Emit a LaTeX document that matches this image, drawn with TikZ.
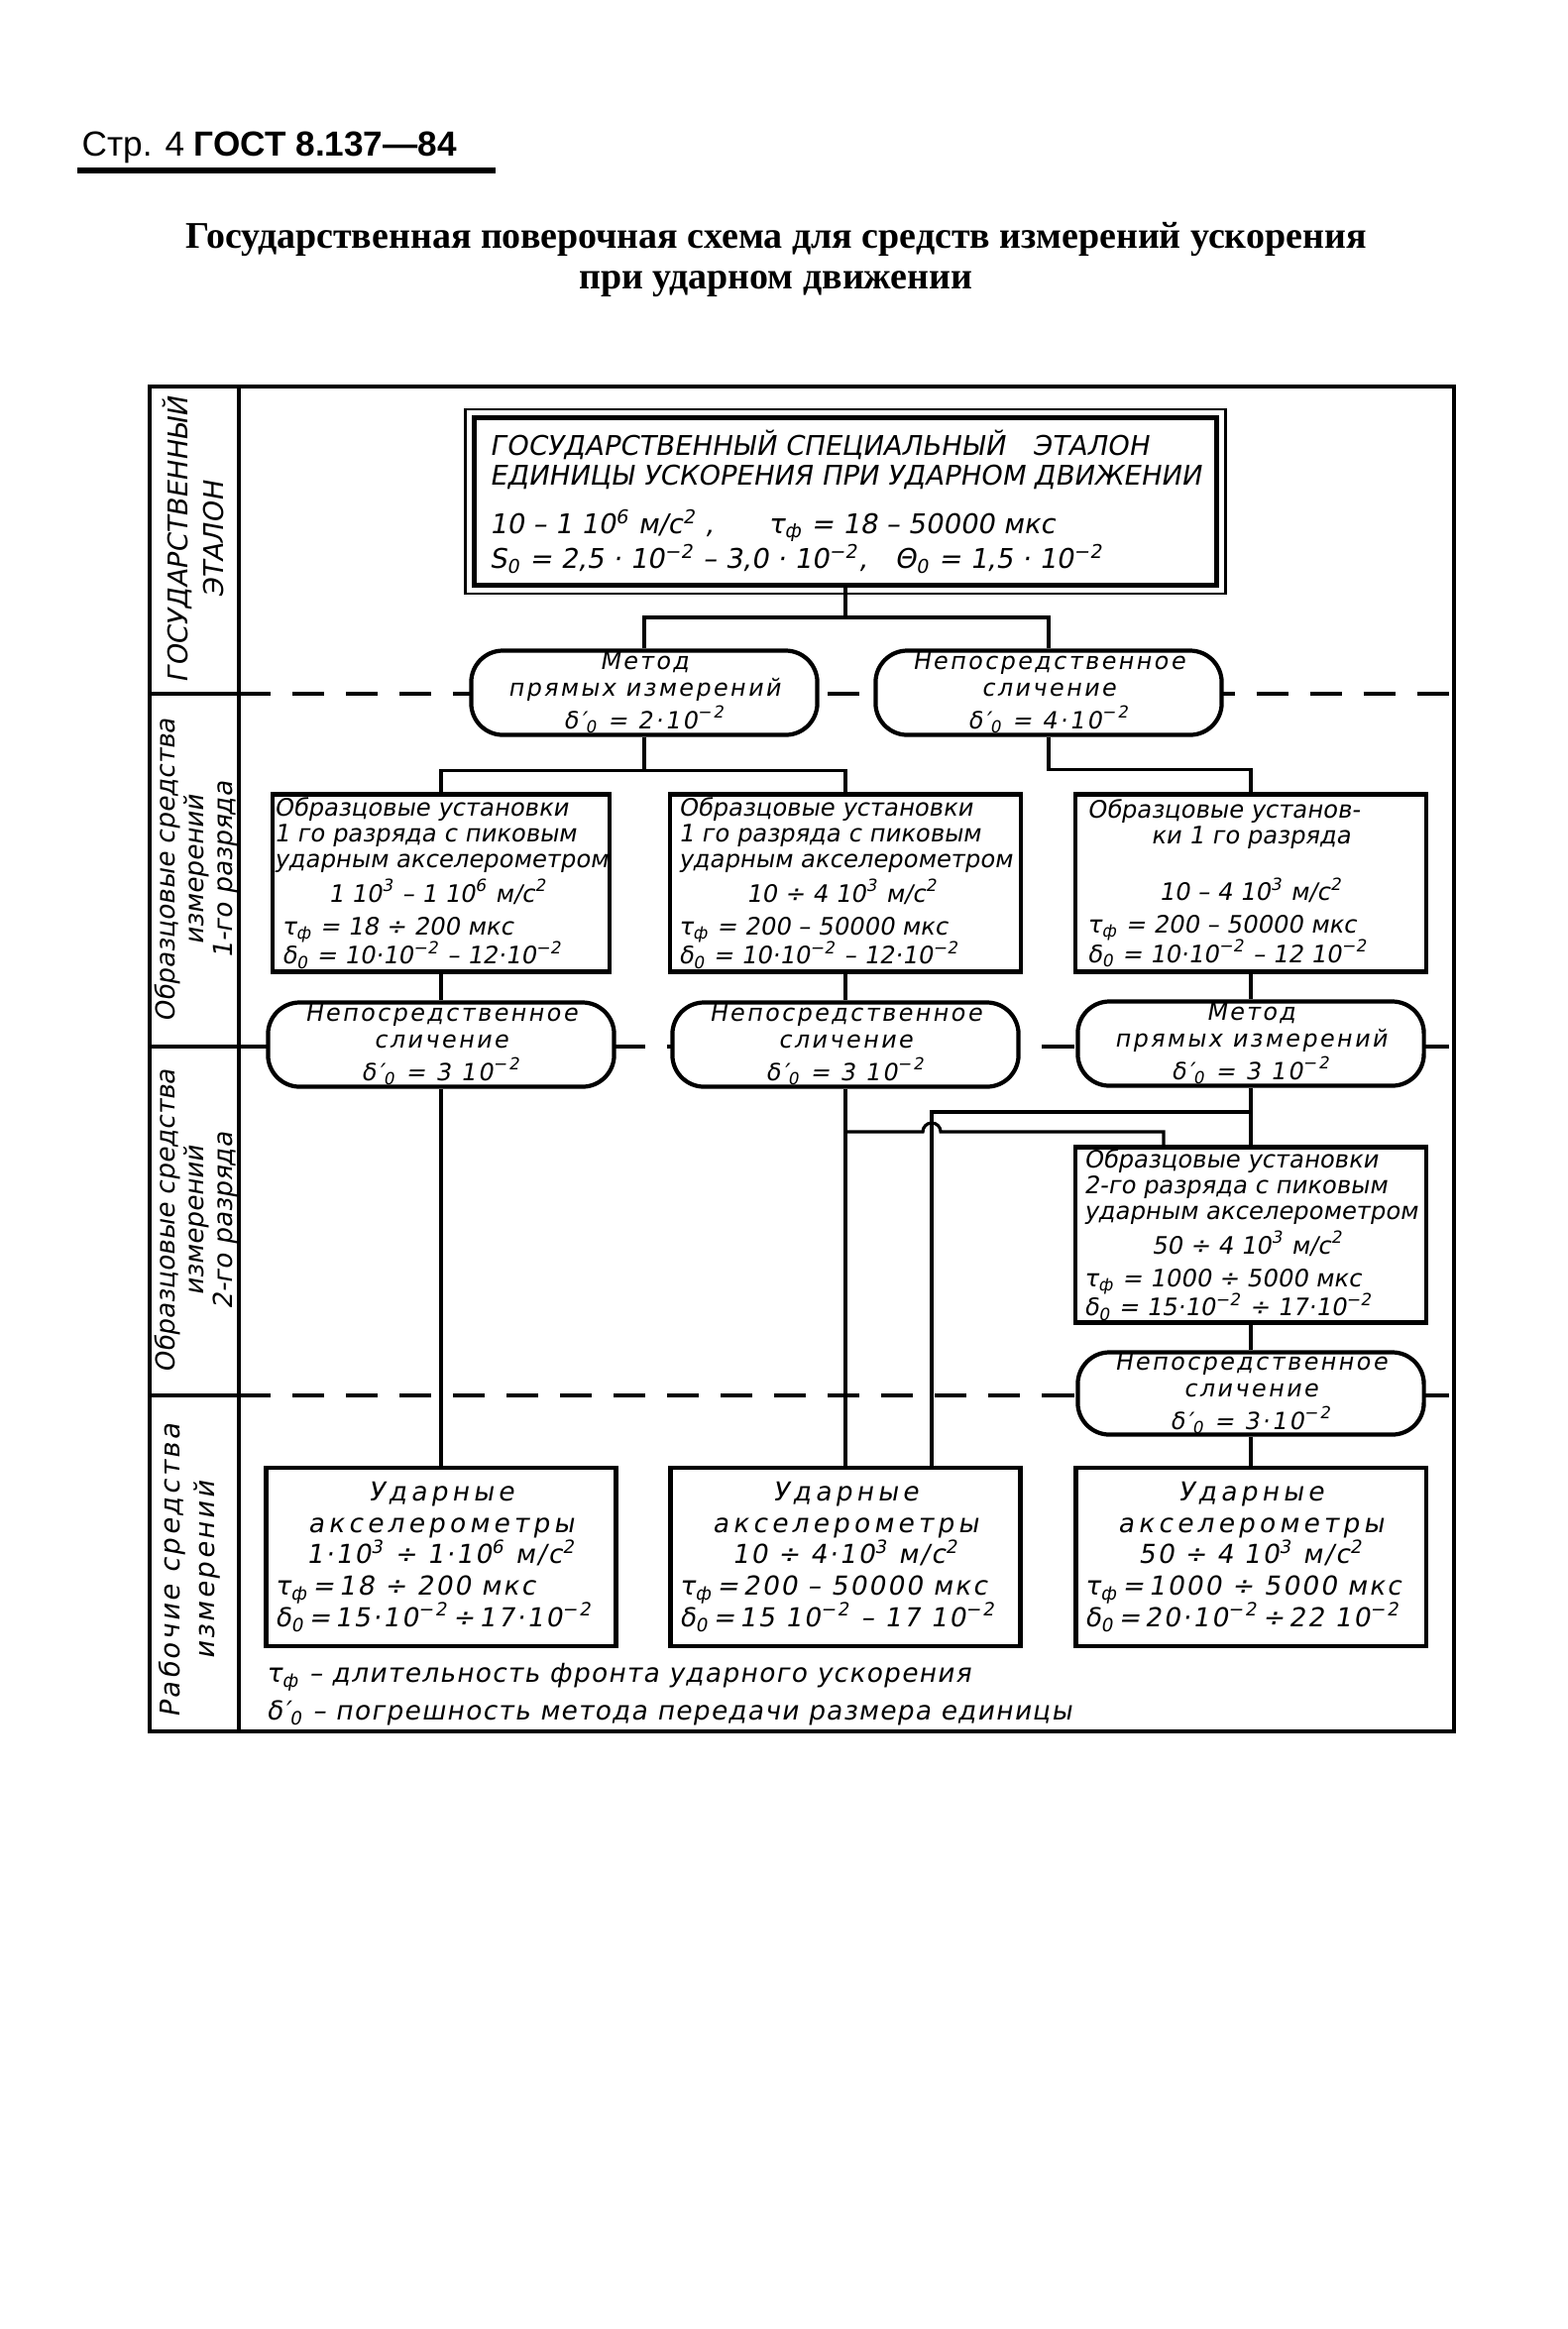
\documentclass[tikz,border=0pt]{standalone}
\usepackage{fontspec}
\setmainfont{Liberation Serif}
\newfontfamily\headfont{Liberation Sans}
\newfontfamily\gostfont[FakeSlant=0.18]{DejaVu Sans}

\newcommand{\gostsize}[2]{\gostfont\fontsize{#1}{#2}\selectfont\lineskiplimit-20pt\relax}
\newcommand{\tauf}{τ\textsubscript{ф}}
\newcommand{\delo}{δ\textsubscript{0}}
\newcommand{\delp}{δ′\textsubscript{0}}
\newcommand{\pw}[1]{\textsuperscript{#1}}
\newcommand{\centred}[2][3.3cm]{\makebox[#1]{#2}}
\newcommand{\spaced}[1]{{\addfontfeature{LetterSpace=16}#1}}

\begin{document}
\begin{tikzpicture}[x=0.01cm, y=-0.01cm,
  link/.style={line width=0.9pt},
  rowline/.style={line width=0.9pt, dash pattern=on 0.32cm off 0.22cm},
  refbox/.style={draw, line width=1.2pt, fill=white, inner sep=0pt, align=left,
    minimum width=3.54cm, minimum height=1.79cm, font={\gostsize{6.9}{7.4}}},
  workbox/.style={refbox, minimum width=3.53cm, minimum height=1.8cm,
    font={\gostsize{7.5}{9}\addfontfeature{LetterSpace=8}}},
  method/.style={draw, line width=1.2pt, fill=white, rounded corners=0.32cm,
    minimum width=3.49cm, minimum height=0.85cm, inner sep=0pt, align=center,
    font={\gostsize{6.8}{7.5}\addfontfeature{LetterSpace=10}}},
  sidelabel/.style={rotate=90, align=center, inner sep=0pt}
]
\useasboundingbox (0,0) rectangle (1582,2350);

% heading
\node[anchor=base west, inner sep=0pt, font=\headfont\fontsize{10}{12}\selectfont]
  (page) at (82,157) {Стр. 4 \textbf{ГОСТ 8.137—84}};
\draw[line width=1.5pt] (78,172) -- (500,172);
\node[align=center, font=\bfseries\fontsize{10.8}{11.6}\selectfont] (title) at (783,262)
  {Государственная поверочная схема для средств измерений ускорения\\при ударном движении};

% frame and level lines
\draw[line width=1.2pt] (151,390) rectangle (1467,1747);
\draw[line width=1.2pt] (241,390) -- (241,1747);
\foreach \y in {700,1056,1408}{
  \draw[link] (151,\y) -- (241,\y);
  \draw[rowline] (241,\y) -- (1467,\y);
}

% level names
\node[sidelabel, font={\gostsize{7.8}{10.2}}] (lvl0) at (195,545)
  {ГОСУДАРСТВЕННЫЙ\\ЭТАЛОН};
\node[sidelabel, font={\gostsize{7.5}{8.3}}] (lvl1) at (198,878)
  {Образцовые средства\\измерений\\1-го разряда};
\node[sidelabel, font={\gostsize{7.5}{8.3}}] (lvl2) at (198,1232)
  {Образцовые средства\\измерений\\2-го разряда};
\node[sidelabel, font={\gostsize{7.8}{10}\addfontfeature{LetterSpace=10}}] (lvl3) at (191,1585)
  {Рабочие средства\\измерений};

% state standard
\node[refbox, line width=1.4pt, minimum width=7.48cm, minimum height=1.69cm,
      font={\gostsize{7.8}{8.5}}] (etalon) at (853,506) {%
  ГОСУДАРСТВЕННЫЙ СПЕЦИАЛЬНЫЙ\quad ЭТАЛОН\\
  ЕДИНИЦЫ УСКОРЕНИЯ ПРИ УДАРНОМ ДВИЖЕНИИ\\[5.5pt]
  10 – 1 10\pw{6} м/с\pw{2}\ ,\qquad \tauf{} = 18 – 50000 мкс\\[1.5pt]
  S\textsubscript{0} = 2,5 · 10\pw{−2} – 3,0 · 10\pw{−2},\quad Θ\textsubscript{0} = 1,5 · 10\pw{−2}};
\draw[line width=0.7pt] ([shift={(-7,-6)}]etalon.north west) rectangle ([shift={(7,6)}]etalon.south east);

\node[method] (meth1) at (650,699) {Метод\\прямых измерений\\[2pt]\delp{} = 2·10\pw{−2}};
\node[method] (comp1) at (1058,699) {Непосредственное\\сличение\\[2pt]\delp{} = 4·10\pw{−2}};

% first rank
\node[refbox, minimum width=3.4cm] (ref1a) at (445,891) {%
  Образцовые установки\\
  1 го разряда с пиковым\\
  ударным акселерометром\\[2.5pt]
  \centred{1 10\pw{3} – 1 10\pw{6} м/с\pw{2}}\\[2pt]
  \ \tauf{} = 18 ÷ 200 мкс\\[1pt]
  \ \delo{} = 10·10\pw{−2} – 12·10\pw{−2}};
\node[refbox] (ref1b) at (853,891) {%
  Образцовые установки\\
  1 го разряда с пиковым\\
  ударным акселерометром\\[2.5pt]
  \centred{10 ÷ 4 10\pw{3} м/с\pw{2}}\\[2pt]
  \tauf{} = 200 – 50000 мкс\\[1pt]
  \delo{} = 10·10\pw{−2} – 12·10\pw{−2}};
\node[refbox] (ref1c) at (1262,891) {%
  Образцовые установ-\\
  \centred{ки 1 го разряда}\\[9pt]
  \centred{10 – 4 10\pw{3} м/с\pw{2}}\\[2pt]
  \tauf{} = 200 – 50000 мкс\\[1pt]
  \delo{} = 10·10\pw{−2} – 12 10\pw{−2}};

\node[method] (comp2a) at (445,1054) {Непосредственное\\сличение\\[2pt]\delp{} = 3 10\pw{−2}};
\node[method] (comp2b) at (853,1054) {Непосредственное\\сличение\\[2pt]\delp{} = 3 10\pw{−2}};
\node[method] (meth2c) at (1262,1053) {Метод\\прямых измерений\\[2pt]\delp{} = 3 10\pw{−2}};

% second rank
\node[refbox, minimum height=1.77cm] (ref2) at (1262,1246) {%
  Образцовые установки\\
  2-го разряда с пиковым\\
  ударным акселерометром\\[2.5pt]
  \centred{50 ÷ 4 10\pw{3} м/с\pw{2}}\\[2pt]
  \tauf{} = 1000 ÷ 5000 мкс\\[1pt]
  \delo{} = 15·10\pw{−2} ÷ 17·10\pw{−2}};
\node[method, minimum height=0.83cm] (comp3) at (1262,1406) {Непосредственное\\сличение\\[2pt]\delp{} = 3·10\pw{−2}};

% working instruments
\node[workbox] (work1) at (445,1571) {%
  \centred[3.35cm]{\spaced{Ударные}}\\
  \centred[3.35cm]{\spaced{акселерометры}}\\
  \centred[3.35cm]{1·10\pw{3} ÷ 1·10\pw{6} м/с\pw{2}}\\
  \tauf{}\,=\,18 ÷ 200 мкс\\
  \delo{}\,=\,15·10\pw{−2}\,÷\,17·10\pw{−2}};
\node[workbox] (work2) at (853,1571) {%
  \centred[3.35cm]{\spaced{Ударные}}\\
  \centred[3.35cm]{\spaced{акселерометры}}\\
  \centred[3.35cm]{10 ÷ 4·10\pw{3} м/с\pw{2}}\\
  \tauf{}\,=\,200 – 50000 мкс\\
  \delo{}\,=\,15 10\pw{−2} – 17 10\pw{−2}};
\node[workbox] (work3) at (1262,1571) {%
  \centred[3.35cm]{\spaced{Ударные}}\\
  \centred[3.35cm]{\spaced{акселерометры}}\\
  \centred[3.35cm]{50 ÷ 4 10\pw{3} м/с\pw{2}}\\
  \tauf{}\,=\,1000 ÷ 5000 мкс\\
  \delo{}\,=\,20·10\pw{−2}\,÷\,22 10\pw{−2}};

% connections
\draw[link] (etalon.south) -- ++(0,30) coordinate (e0);
\draw[link] (meth1.north) |- (e0) -| (comp1.north);
\draw[link] (meth1.south) -- ++(0,34) coordinate (e1);
\draw[link] (ref1a.north) |- (e1) -| (ref1b.north);
\draw[link] (comp1.south) -- ++(0,33) -| (ref1c.north);
\draw[link] (ref1a.south) -- (comp2a.north);
\draw[link] (ref1b.south) -- (comp2b.north);
\draw[link] (ref1c.south) -- (meth2c.north);
\draw[link] (comp2a.south) -- (work1.north);
\draw[link] (comp2b.south) -- (work2.north);
\draw[link] (meth2c.south) -- (ref2.north);
\draw[link] (ref2.south) -- (comp3.north);
\draw[link] (comp3.south) -- (work3.north);
\coordinate (j1) at (1262,1122);
\coordinate (j2) at (853,1142);
\draw[link] (j1) -| ([xshift=0.87cm]work2.north);
\draw[link] (j2) -- ([xshift=0.78cm]j2) arc[start angle=180, end angle=0, radius=0.09cm]
  -| ([xshift=-0.88cm]ref2.north);

% notes
\node[anchor=base west, inner sep=0pt, font={\gostsize{7.5}{9}\addfontfeature{LetterSpace=5}}]
  (note1) at (268,1697) {\tauf{} – длительность фронта ударного ускорения};
\node[anchor=base west, inner sep=0pt, font={\gostsize{7.5}{9}\addfontfeature{LetterSpace=5}}]
  (note2) at (268,1735) {\delp{} – погрешность метода передачи размера единицы};
\end{tikzpicture}
\end{document}
